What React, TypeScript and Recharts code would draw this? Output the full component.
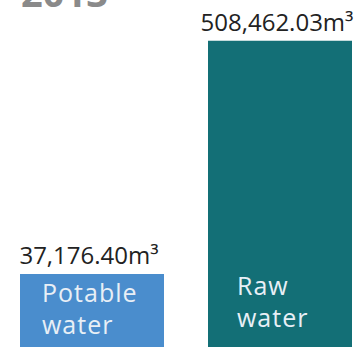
import React from 'react';
import { BarChart, Bar, XAxis, YAxis, Cell, LabelList } from 'recharts';

// Water usage 2013
const categories = ['Potable water', 'Raw water'];
const volumes = [37176.4, 508462.03];
const title = '2013';

const COLORS = ['#4a8dcd', '#136f76'];
const FONT = '"Open Sans", Lato, sans-serif';

// where the name sits inside each bar (dx from bar left, dy up from bar bottom)
const NAME_POS = [
  { dx: 22, dy: 45 },
  { dx: 29, dy: 52 },
];

const data = categories.map((name, i) => ({ name, value: volumes[i] }));

const fmt = (v: number) =>
  v.toLocaleString('en-US', { minimumFractionDigits: 2, maximumFractionDigits: 2 }) + 'm³';

const ValueLabel = (props: any) => {
  const { x, y, width, value } = props;
  return (
    <text
      x={x + width / 2 - 3}
      y={y - 10}
      textAnchor="middle"
      fontSize={24}
      fontFamily={FONT}
      fill="#222"
    >
      {fmt(value)}
    </text>
  );
};

const NameLabel = (props: any) => {
  const { x, y, height, index, value } = props;
  const pos = NAME_POS[index] || NAME_POS[0];
  const bottom = y + height;
  const words = String(value).split(' ');
  return (
    <text
      x={x + pos.dx}
      y={bottom - pos.dy}
      fontSize={25}
      letterSpacing={1}
      fontFamily={FONT}
      fill="#e8eff6"
    >
      {words.map((w, i) => (
        <tspan key={i} x={x + pos.dx} dy={i === 0 ? 0 : 32}>
          {w}
        </tspan>
      ))}
    </text>
  );
};

export default function App() {
  return (
    <div
      style={{
        position: 'absolute',
        left: 0,
        top: 0,
        width: 356,
        height: 347,
        overflow: 'hidden',
        background: '#fff',
      }}
    >
      <svg width={356} height={40} style={{ position: 'absolute', left: 0, top: 0 }}>
        <text x={21} y={7} fontSize={38} fontWeight="bold" fontFamily={FONT} fill="#8a8a8a">
          {title}
        </text>
      </svg>
      <div style={{ position: 'absolute', left: -2, top: 0 }}>
        <BarChart
          width={376}
          height={347}
          data={data}
          margin={{ top: 26, right: 0, bottom: 0, left: 0 }}
        >
          <XAxis dataKey="name" hide />
          <YAxis type="number" scale="log" domain={[16400, 600000]} allowDataOverflow hide />
          <Bar dataKey="value" barSize={144} isAnimationActive={false}>
            {data.map((d, i) => (
              <Cell key={d.name} fill={COLORS[i]} />
            ))}
            <LabelList dataKey="value" content={ValueLabel} />
            <LabelList dataKey="name" content={NameLabel} />
          </Bar>
        </BarChart>
      </div>
    </div>
  );
}
